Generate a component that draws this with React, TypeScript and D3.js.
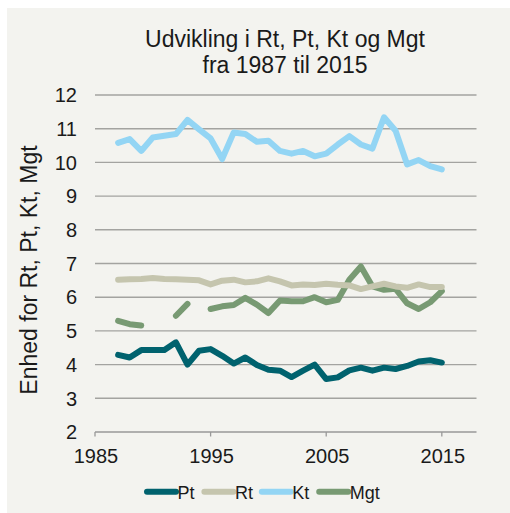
import React from "react";
import * as d3 from "d3";

const years: number[] = d3.range(1987, 2016);

const ptValues: (number | null)[] = [
  4.29, 4.21, 4.43, 4.43, 4.43, 4.66, 4.0, 4.41, 4.46, 4.26,
  4.03, 4.21, 3.99, 3.85, 3.82, 3.63, 3.82, 4.0, 3.57, 3.62,
  3.83, 3.91, 3.82, 3.91, 3.87, 3.96, 4.09, 4.13, 4.06,
];
const rtValues: (number | null)[] = [
  6.52, 6.53, 6.54, 6.57, 6.54, 6.53, 6.52, 6.5, 6.38, 6.49,
  6.52, 6.44, 6.47, 6.56, 6.47, 6.35, 6.38, 6.36, 6.4, 6.37,
  6.35, 6.24, 6.32, 6.4, 6.32, 6.28, 6.38, 6.3, 6.3,
];
const ktValues: (number | null)[] = [
  10.58, 10.69, 10.34, 10.74, 10.79, 10.84, 11.26, 10.98, 10.71, 10.1,
  10.89, 10.84, 10.61, 10.64, 10.34, 10.26, 10.34, 10.18, 10.26, 10.53,
  10.78, 10.53, 10.41, 11.34, 10.94, 9.94, 10.07, 9.89, 9.79,
];
const mgtValues: (number | null)[] = [
  5.3, 5.2, 5.16, null, null, 5.45, 5.8, null, 5.65, 5.73,
  5.77, 5.98, 5.78, 5.53, 5.9, 5.88, 5.88, 6.0, 5.85, 5.92,
  6.52, 6.91, 6.32, 6.22, 6.25, 5.82, 5.65, 5.85, 6.18,
];

const seriesNames: string[] = ["Pt", "Rt", "Kt", "Mgt"];
const seriesColors: string[] = ["#00626e", "#c5c5ae", "#93d5f4", "#789a73"];
const seriesData = [ptValues, rtValues, ktValues, mgtValues];

const yTicks: number[] = [2, 3, 4, 5, 6, 7, 8, 9, 10, 11, 12];
const xTicks: number[] = [1985, 1995, 2005, 2015];

const titleLines: string[] = ["Udvikling i Rt, Pt, Kt og Mgt", "fra 1987 til 2015"];
const yAxisTitle = "Enhed for Rt, Pt, Kt, Mgt";

const FONT = "'Liberation Sans', Arial, sans-serif";

export default function App() {
  const W = 510;
  const H = 513;
  const left = 95;
  const right = 476.5;
  const top = 95;
  const bottom = 432;

  const x = d3.scaleLinear().domain([1985, 2018]).range([left, right]);
  const y = d3.scaleLinear().domain([2, 12]).range([bottom, top]);

  const line = d3
    .line<number | null>()
    .defined((d) => d !== null)
    .x((_, i) => x(years[i]))
    .y((d) => y(d as number));

  const legendStart = 147;
  const legendStep = 57.4;

  return (
    <svg
      width={W}
      height={H}
      style={{ position: "absolute", left: 0, top: 0 }}
      fontFamily={FONT}
    >
      <rect x={7} y={8} width={W - 7} height={H - 8} fill="#f3f3ef" />

      {titleLines.map((t, i) => (
        <text
          key={i}
          x={285}
          y={47 + i * 25.5}
          textAnchor="middle"
          fontSize={23}
          fill="#1a1a1a"
        >
          {t}
        </text>
      ))}

      {yTicks.slice(1).map((t) => (
        <line
          key={"g" + t}
          x1={left}
          x2={right}
          y1={y(t)}
          y2={y(t)}
          stroke="#a3a3a0"
          strokeWidth={1.4}
        />
      ))}

      <line x1={left} x2={right} y1={y(2)} y2={y(2)} stroke="#999" strokeWidth={1.3} />
      {xTicks.map((t) => (
        <line
          key={"xt" + t}
          x1={x(t)}
          x2={x(t)}
          y1={y(2)}
          y2={y(2) + 4.5}
          stroke="#999"
          strokeWidth={1.3}
        />
      ))}

      {yTicks.map((t) => (
        <text
          key={"yl" + t}
          x={77}
          y={y(t)}
          dy="0.36em"
          textAnchor="end"
          fontSize={20}
          fill="#1a1a1a"
        >
          {t}
        </text>
      ))}

      {xTicks.map((t) => (
        <text
          key={"xl" + t}
          x={x(t) + 1}
          y={463}
          textAnchor="middle"
          fontSize={20}
          fill="#1a1a1a"
        >
          {t}
        </text>
      ))}

      <text
        transform={`translate(36.5, 270) rotate(-90)`}
        textAnchor="middle"
        fontSize={23}
        fill="#1a1a1a"
      >
        {yAxisTitle}
      </text>

      {seriesData.map((vals, si) => (
        <path
          key={"s" + si}
          d={line(vals) || ""}
          fill="none"
          stroke={seriesColors[si]}
          strokeWidth={6}
          strokeLinejoin="round"
          strokeLinecap="round"
        />
      )).reverse()}

      {seriesNames.map((n, i) => {
        const lx = legendStart + i * legendStep;
        return (
          <g key={"lg" + n}>
            <line
              x1={lx}
              x2={lx + 29}
              y1={491.7}
              y2={491.7}
              stroke={seriesColors[i]}
              strokeWidth={6}
              strokeLinecap="round"
            />
            <text x={lx + 30.5} y={498.5} fontSize={18} fill="#1a1a1a">
              {n}
            </text>
          </g>
        );
      })}
    </svg>
  );
}
